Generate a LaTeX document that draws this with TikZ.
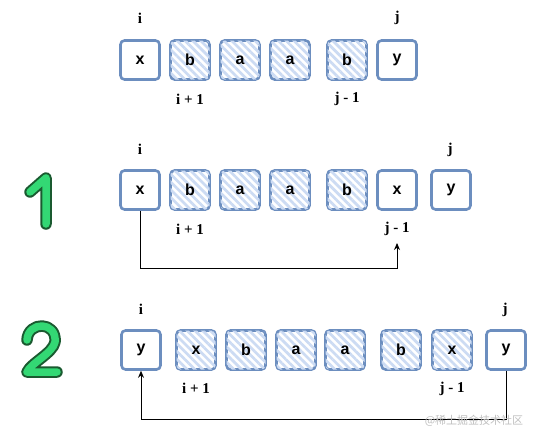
\documentclass[tikz,border=0pt]{standalone}
\usepackage{fontspec}
\setmainfont{Liberation Serif}
\newfontfamily\boxfont{Liberation Sans}
\newfontfamily\cjkfont{Noto Sans CJK SC}
\usetikzlibrary{patterns.meta,arrows.meta}
\definecolor{boxline}{HTML}{6C8EBF}
\definecolor{hatch}{HTML}{CCDBF3}
\definecolor{numfill}{HTML}{33D874}
\definecolor{numline}{HTML}{1A5A30}
\tikzset{
  cell/.style={draw=boxline, line width=2.6pt, rounded corners=4pt, minimum width=39pt, minimum height=39pt,
    inner sep=0pt, font=\boxfont\bfseries\fontsize{16}{16}\selectfont, fill=white},
  hcell/.style={cell, postaction={pattern={Lines[angle=-45,distance=5.5pt,line width=2.7pt]}, pattern color=hatch}},
  idx/.style={font=\bfseries\fontsize{15}{15}\selectfont, inner sep=0pt},
  conn/.style={draw=black, line width=0.9pt, -{Stealth[length=7pt,width=6pt]}},
  numout/.style={draw=numline, line width=11.5pt, line cap=round, line join=round},
  numin/.style={draw=numfill, line width=7.5pt, line cap=round, line join=round},
}
\begin{document}
\begin{tikzpicture}[x=1pt,y=-1pt]
\useasboundingbox (0,0) rectangle (537,439);
% row 0
\node[cell]  (r1a) at (140,60) {x};
\node[hcell] (r1b) at (190,60) {b};
\node[hcell] (r1c) at (240,60) {a};
\node[hcell] (r1d) at (290,60) {a};
\node[hcell] (r1e) at (347,60) {b};
\node[cell]  (r1f) at (397,60) {y};
\node[idx] (r1i) at (140,18) {i};
\node[idx] (r1j) at (397,18) {j};
\node[idx] (r1i1) at (190,99) {i + 1};
\node[idx] (r1j1) at (347,99) {j - 1};
% row 1
\node[cell]  (r2a) at (140,190) {x};
\node[hcell] (r2b) at (190,190) {b};
\node[hcell] (r2c) at (240,190) {a};
\node[hcell] (r2d) at (290,190) {a};
\node[hcell] (r2e) at (347,190) {b};
\node[cell]  (r2f) at (397,190) {x};
\node[cell]  (r2g) at (451,190) {y};
\node[idx] (r2i) at (140,149) {i};
\node[idx] (r2j) at (450,150) {j};
\node[idx] (r2i1) at (190,229) {i + 1};
\node[idx] (r2j1) at (397,229) {j - 1};
\coordinate (e1) at (397,243);
\draw[conn] (r2a.south) -- ++(0,58) -| (e1);
% row 2
\node[cell]  (r3a) at (141,350) {y};
\node[hcell] (r3b) at (196,350) {x};
\node[hcell] (r3c) at (246,350) {b};
\node[hcell] (r3d) at (296,350) {a};
\node[hcell] (r3e) at (345,350) {a};
\node[hcell] (r3f) at (401,350) {b};
\node[hcell] (r3g) at (452,350) {x};
\node[cell]  (r3h) at (506,350) {y};
\node[idx] (r3i) at (141,309) {i};
\node[idx] (r3j) at (505,310) {j};
\node[idx] (r3i1) at (196,388) {i + 1};
\node[idx] (r3j1) at (452,389) {j - 1};
\draw[conn] (r3h.south) -- ++(0,49) -| (r3a.south);
% big numbers
\draw[numout] (30,192) -- (46,178) -- (46,224);
\draw[numin] (30,192) -- (46,178) -- (46,224);
\draw[numout] (27,340) .. controls (28,321) and (57,321) .. (55,342) .. controls (53,353) and (31,363) .. (27,372) -- (57,372);
\draw[numin] (27,340) .. controls (28,321) and (57,321) .. (55,342) .. controls (53,353) and (31,363) .. (27,372) -- (57,372);
% watermark
\node[font=\cjkfont\fontsize{11}{11}\selectfont, text=black!25, inner sep=0pt] (wm) at (474,421) {@稀土掘金技术社区};
\end{tikzpicture}
\end{document}
